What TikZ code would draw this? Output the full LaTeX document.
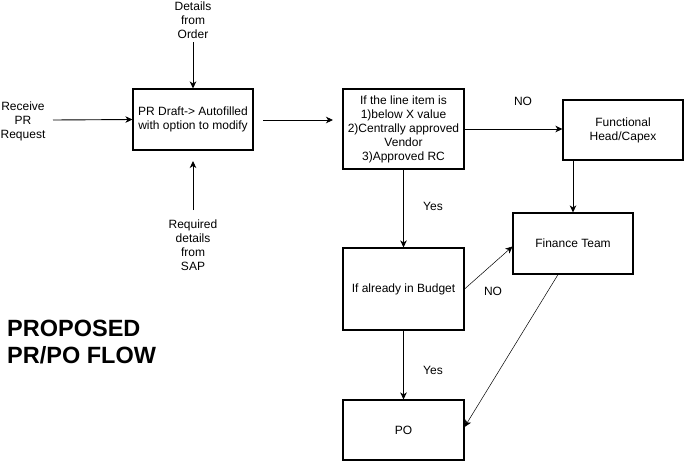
\documentclass[tikz,border=0pt]{standalone}
\usepackage{fontspec}
\setmainfont{Liberation Sans}
\usetikzlibrary{arrows.meta,calc}
\begin{document}
\begin{tikzpicture}[x=1pt,y=-1pt,
  every node/.style={font=\fontsize{12}{14}\selectfont, inner sep=0pt},
  box/.style={draw, line width=1.1pt, align=center, minimum width=121pt},
  txt/.style={align=center},
  arr/.style={line width=0.9pt, -{Stealth[length=7pt,width=6.5pt,inset=2pt]}},
  thinarr/.style={line width=0.5pt, -{Stealth[length=7pt,width=6.5pt,inset=2pt]}}]
\useasboundingbox (0,0) rectangle (684,461);
% boxes
\node[box, minimum width=120pt, minimum height=61pt] (pr) at (193,119.5) {PR Draft-> Autofilled\\with option to modify};
\node[box, minimum height=80pt] (dec) at (403.5,129) {If the line item is\\1)below X value\\2)Centrally approved\\Vendor\\3)Approved RC};
\node[box, minimum width=120pt, minimum height=60pt] (fh) at (623,130) {Functional\\Head/Capex};
\node[box, minimum width=120pt, minimum height=61pt] (fin) at (573,243.5) {Finance Team};
\node[box, minimum height=82pt] (bud) at (403.5,289) {If already in Budget};
\node[box, minimum height=60pt] (po) at (403.5,430) {PO};
% free texts
\node[txt] (rcv) at (23,121) {Receive\\PR\\Request};
\node[txt] (ord) at (193,20.5) {Details\\from\\Order};
\node[txt] (sap) at (193,245) {Required\\details\\from\\SAP};
\node[txt] (no1) at (523,101) {NO};
\node[txt] (yes1) at (433,206) {Yes};
\node[txt] (no2) at (493,291) {NO};
\node[txt] (yes2) at (433,370) {Yes};
\node[align=left, anchor=north west, font=\fontsize{23.5}{27.5}\selectfont\bfseries] (title) at (7,319.5) {PROPOSED\\PR/PO FLOW};
% free ends
\coordinate (rcvA) at (53,120);
\coordinate (ordA) at (193,42);
\coordinate (sapA) at (193,210);
\coordinate (sapB) at (193,161);
\coordinate (prA) at (263,120);
\coordinate (prB) at (333,120);
% connectors
\draw[arr] (rcvA) -- (pr.west);
\draw[arr] (ordA) -- (pr.north);
\draw[arr] (sapA) -- (sapB);
\draw[arr] (prA) -- (prB);
\draw[arr] (dec.east) -- (dec.east -| fh.west);
\draw[arr] (fin.north |- fh.south) -- (fin.north);
\draw[arr] (dec.south) -- (bud.north);
\draw[arr] (bud.south) -- (po.north);
\draw[thinarr] (bud.east) -- ($(fin.west)+(0,3)$);
\draw[thinarr] ($(fin.south)+(-15,0)$) -- ($(po.east)+(0,-3)$);
\end{tikzpicture}
\end{document}
